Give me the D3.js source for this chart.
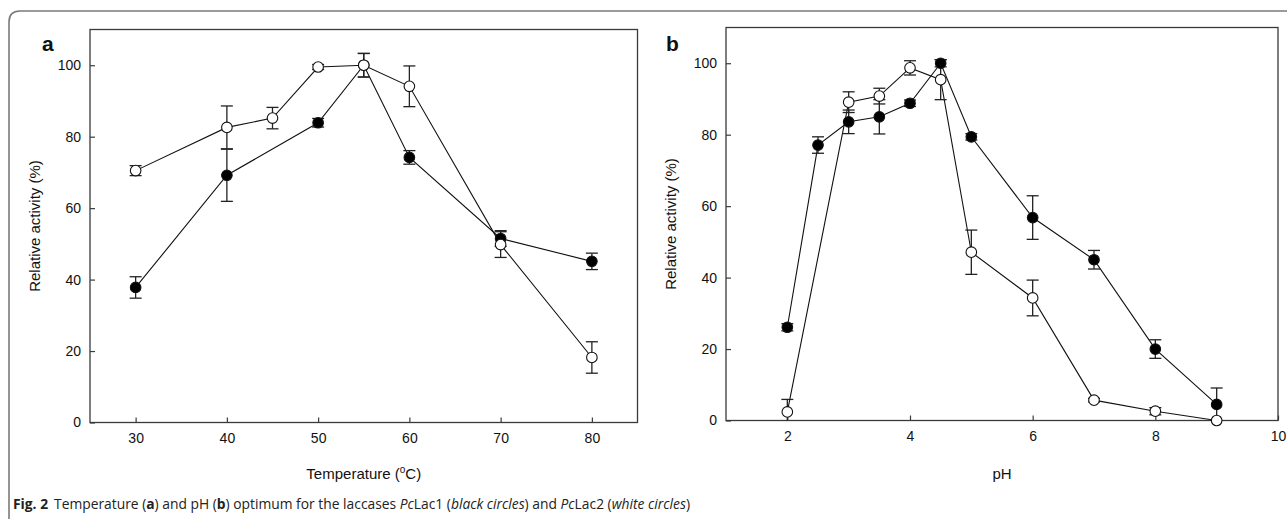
<!DOCTYPE html>
<html>
<head>
<meta charset="utf-8">
<script src="https://cdn.jsdelivr.net/npm/d3@7"></script>
<style>
  body { margin: 0; background: #fff; }
  svg { display: block; }
</style>
</head>
<body>
<div id="container"></div>
<script>
// panel a: temperature
var tempX = [30, 40, 45, 50, 55, 60, 70, 80];
var tempLac1 = [37.8, 69.2, null, 83.9, 100, 74.2, 51.5, 45.1];
var tempLac1Err = [3.0, 7.3, null, 1.2, 3.3, 1.9, 2.2, 2.3];
var tempLac2 = [70.5, 82.6, 85.2, 99.5, 100, 94.1, 49.8, 18.2];
var tempLac2Err = [1.4, 6.0, 3.0, 0.7, 3.3, 5.7, 3.6, 4.4];
var tempTicks = [30, 40, 50, 60, 70, 80];

// panel b: pH
var phX = [2, 2.5, 3, 3.5, 4, 4.5, 5, 6, 7, 8, 9];
var phLac1 = [26.1, 77.1, 83.6, 85.0, 88.8, 100, 79.4, 56.8, 45.0, 20.0, 4.5];
var phLac1Err = [1.0, 2.3, 3.3, 4.8, 0.9, 1.0, 0.9, 6.1, 2.6, 2.6, 4.6];
var phLac2 = [2.4, null, 89.1, 90.8, 98.7, 95.4, 47.1, 34.3, 5.7, 2.6, 0];
var phLac2Err = [3.5, null, 2.9, 2.2, 2.0, 5.6, 6.2, 5.0, 0.5, 1.0, 0];
var phTicks = [2, 4, 6, 8, 10];

var activityTicks = [0, 20, 40, 60, 80, 100];

var width = 1287;
var height = 519;
var font = '"Liberation Sans", Arial, sans-serif';

function toPoints(xs, ys, errs){
    let pts = [];
    for(let i = 0; i < xs.length; i++){
        if(ys[i] === null) continue;
        pts.push({x: xs[i], y: ys[i], e: errs[i]});
    }
    return pts;
}

function drawPanel(svg, opts){
    let x = d3.scaleLinear().domain(opts.xDomain).range([opts.left, opts.right]);
    let y = d3.scaleLinear().domain([0, 110]).range([opts.bottom, opts.top]);
    let g = svg.append('g');

    // frame
    g.append('rect')
        .attr('x', opts.left).attr('y', opts.top)
        .attr('width', opts.right - opts.left).attr('height', opts.bottom - opts.top)
        .attr('fill', 'none').attr('stroke', '#3a3a3a').attr('stroke-width', 1.3);

    // axes with inward ticks
    let xAxis = g.append('g')
        .attr('transform', 'translate(0,' + opts.bottom + ')')
        .call(d3.axisBottom(x).tickValues(opts.xTicks).tickSizeInner(-5).tickSizeOuter(0).tickPadding(11));
    let yAxis = g.append('g')
        .attr('transform', 'translate(' + opts.left + ',0)')
        .call(d3.axisLeft(y).tickValues(activityTicks).tickSizeInner(-5).tickSizeOuter(0).tickPadding(9));
    [xAxis, yAxis].forEach(function(ax){
        ax.select('.domain').remove();
        ax.selectAll('line').attr('stroke', '#3a3a3a').attr('stroke-width', 1.2);
        ax.selectAll('text').attr('font-family', font).attr('font-size', 14).attr('fill', '#111');
    });

    let line = d3.line().x(d => x(d.x)).y(d => y(d.y));

    opts.series.forEach(function(s){
        g.append('path')
            .datum(s.points)
            .attr('d', line)
            .attr('fill', 'none')
            .attr('stroke', '#111')
            .attr('stroke-width', 1.1);
    });

    opts.series.forEach(function(s){
        let bars = g.append('g');
        s.points.filter(d => d.e > 0).forEach(function(d){
            let y0 = y(Math.max(0, d.y - d.e));
            let y1 = y(d.y + d.e);
            let cx = x(d.x);
            bars.append('line').attr('x1', cx).attr('x2', cx).attr('y1', y0).attr('y2', y1);
            bars.append('line').attr('x1', cx - 6).attr('x2', cx + 6).attr('y1', y1).attr('y2', y1);
            if(d.y - d.e > 0){
                bars.append('line').attr('x1', cx - 6).attr('x2', cx + 6).attr('y1', y0).attr('y2', y0);
            }
        });
        bars.selectAll('line').attr('stroke', '#222').attr('stroke-width', 1.3);
    });

    opts.series.forEach(function(s){
        g.append('g').selectAll('circle')
            .data(s.points)
            .join('circle')
            .attr('cx', d => x(d.x))
            .attr('cy', d => y(d.y))
            .attr('r', 5.3)
            .attr('fill', s.fill)
            .attr('stroke', '#111')
            .attr('stroke-width', 1.1);
    });

    // titles
    g.append('text')
        .attr('transform', 'translate(' + opts.yTitleX + ',' + ((opts.top + opts.bottom) / 2) + ') rotate(-90)')
        .attr('text-anchor', 'middle')
        .attr('font-family', font).attr('font-size', 15).attr('fill', '#111')
        .text('Relative activity (%)');

    let xt = g.append('text')
        .attr('x', (opts.left + opts.right) / 2)
        .attr('y', 479)
        .attr('text-anchor', 'middle')
        .attr('font-family', font).attr('font-size', 15).attr('fill', '#111');
    opts.xTitle(xt);

    g.append('text')
        .attr('x', opts.labelX).attr('y', 51)
        .attr('font-family', font).attr('font-size', 21).attr('font-weight', 'bold').attr('fill', '#111')
        .text(opts.label);
}

let svg = d3.select('#container').append('svg')
    .attr('width', width).attr('height', height)
    .style('background', '#fff');

// outer box of the figure
svg.append('path')
    .attr('d', 'M9,' + height + ' L9,22 Q9,11 20,11 L' + width + ',11')
    .attr('fill', 'none').attr('stroke', '#7a7a7a').attr('stroke-width', 1.6);

drawPanel(svg, {
    xDomain: [25, 85], xTicks: tempTicks,
    left: 90, right: 637.5, top: 29.5, bottom: 422.5,
    yTitleX: 40, labelX: 42, label: 'a',
    series: [
        {points: toPoints(tempX, tempLac1, tempLac1Err), fill: '#000'},
        {points: toPoints(tempX, tempLac2, tempLac2Err), fill: '#fff'}
    ],
    xTitle: function(t){
        t.append('tspan').text('Temperature (');
        t.append('tspan').attr('font-size', 10).attr('dy', -6).text('o');
        t.append('tspan').attr('dy', 6).text('C)');
    }
});

drawPanel(svg, {
    xDomain: [1, 10], xTicks: phTicks,
    left: 726, right: 1278, top: 27.5, bottom: 420.5,
    yTitleX: 676, labelX: 666, label: 'b',
    series: [
        {points: toPoints(phX, phLac1, phLac1Err), fill: '#000'},
        {points: toPoints(phX, phLac2, phLac2Err), fill: '#fff'}
    ],
    xTitle: function(t){ t.text('pH'); }
});

// caption
let cap = svg.append('text')
    .attr('x', 13).attr('y', 509)
    .attr('font-family', '"Open Sans", "Noto Sans", sans-serif')
    .attr('font-size', 13.8).attr('fill', '#222')
    .attr('textLength', 677).attr('lengthAdjust', 'spacingAndGlyphs');
cap.append('tspan').attr('font-weight', 'bold').text('Fig. 2');
cap.append('tspan').attr('dx', 6).text('Temperature (');
cap.append('tspan').attr('font-weight', 'bold').text('a');
cap.append('tspan').text(') and pH (');
cap.append('tspan').attr('font-weight', 'bold').text('b');
cap.append('tspan').text(') optimum for the laccases ');
cap.append('tspan').attr('font-style', 'italic').text('Pc');
cap.append('tspan').text('Lac1 (');
cap.append('tspan').attr('font-style', 'italic').text('black circles');
cap.append('tspan').text(') and ');
cap.append('tspan').attr('font-style', 'italic').text('Pc');
cap.append('tspan').text('Lac2 (');
cap.append('tspan').attr('font-style', 'italic').text('white circles');
cap.append('tspan').text(')');
</script>
</body>
</html>
